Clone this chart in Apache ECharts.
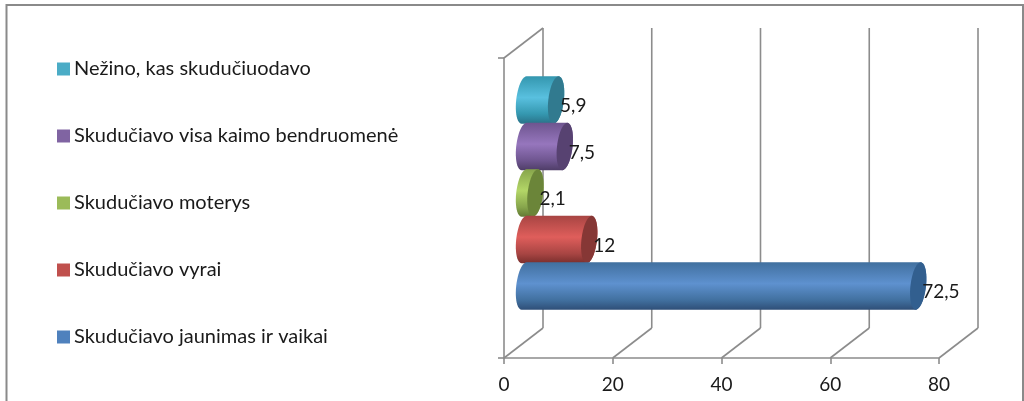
<!DOCTYPE html>
<html><head><meta charset="utf-8">
<style>html,body{margin:0;padding:0;background:#fff}#c{width:1024px;height:401px}</style>
<script src="https://cdn.jsdelivr.net/npm/echarts@6/dist/echarts.min.js"></script>
</head><body><div id="c"></div>
<script>
const seriesNames = ['Skudučiavo jaunimas ir vaikai','Skudučiavo vyrai','Skudučiavo moterys','Skudučiavo visa kaimo bendruomenė','Nežino, kas skudučiuodavo'];
const seriesValues = [72.5,12,2.1,7.5,5.9];
const legendOrder = ['Nežino, kas skudučiuodavo','Skudučiavo visa kaimo bendruomenė','Skudučiavo moterys','Skudučiavo vyrai','Skudučiavo jaunimas ir vaikai'];
const axisTicks = [0,20,40,60,80];
const baseColors = ['#4F81BD','#C0504D','#9BBB59','#8064A2','#4BACC6'];
const bodyEdge = ['#2F4F78','#7A2F2D','#627A34','#4F3D68','#2A7288'];
const bodyTop  = ['#41709F','#A84543','#87A54C','#6E558F','#3497AF'];
const bodyMid  = ['#5E91CF','#DF5E5B','#B3D667','#9676BD','#59C0DF'];
const capColor = ['#325F8F','#863735','#6B8539','#574271','#317A8F'];
const FONT = 'Lato';
const DEPTH_X = 39, DEPTH_Y = 30, AXIS = '#8C8C8C';

function ellipsePts(cx, cy, rx, ry, skew, from, to, n){
  const p = [];
  for(let i=0;i<=n;i++){
    const t = (from + (to-from)*i/n)*Math.PI/180;
    p.push([cx + rx*Math.cos(t) - skew*Math.sin(t), cy + ry*Math.sin(t)]);
  }
  return p;
}
function barItem(idx){
  return function(params, api){
    const v = api.value(0);
    const start = api.coord([0,0]), end = api.coord([v,0]);
    const band = api.size([0,1])[1];
    const step = band*0.155, ry = step/2+0.4, rx = 7.8, skew = 2.5;
    const cy = start[1] - DEPTH_Y/2 + (2-idx)*step;
    const x0 = start[0] + DEPTH_X/2 + 0.5, x1 = end[0] + DEPTH_X/2 + 0.5;
    const body = ellipsePts(x0,cy,rx,ry,skew,270,90,24).concat(ellipsePts(x1,cy,rx,ry,skew,90,-90,24));
    const label = String(v).replace('.',',');
    return {type:'group',children:[
      {type:'polygon',shape:{points:body},style:{fill:{type:'linear',x:0,y:0,x2:0,y2:1,colorStops:[
        {offset:0,color:bodyTop[idx]},{offset:0.45,color:bodyMid[idx]},{offset:0.8,color:bodyTop[idx]},{offset:1,color:bodyEdge[idx]}]}}},
      {type:'polygon',shape:{points:ellipsePts(x1,cy,rx,ry,skew,0,360,48)},style:{fill:capColor[idx]}},
      {type:'text',z2:50,style:{x:x1+4,y:cy+6,text:label,fill:'#1a1a1a',font:'19px '+FONT,textAlign:'left',textVerticalAlign:'middle'}}
    ]};
  };
}
function wallItem(params, api){
  const t = api.value(0);
  const p = api.coord([t,0]);
  const band = api.size([0,1])[1];
  const bottom = p[1]+band/2, top = p[1]-band/2;
  const st = {stroke:AXIS,lineWidth:1.6,fill:'none'};
  const ch = [
    {type:'line',shape:{x1:p[0],y1:bottom,x2:p[0]+DEPTH_X,y2:bottom-DEPTH_Y},style:st},
    {type:'line',shape:{x1:p[0]+DEPTH_X,y1:bottom-DEPTH_Y,x2:p[0]+DEPTH_X,y2:top-DEPTH_Y},style:st}
  ];
  if(t===axisTicks[0]) ch.push({type:'line',shape:{x1:p[0],y1:top,x2:p[0]+DEPTH_X,y2:top-DEPTH_Y},style:st});
  return {type:'group',children:ch};
}
const chart = echarts.init(document.getElementById('c'),null,{renderer:'canvas'});
chart.setOption({
  animation:false,
  backgroundColor:'#fff',
  graphic:[{type:'rect',z:100,shape:{x:6.5,y:5,width:1016.5,height:420},style:{fill:'none',stroke:'#8A8A8A',lineWidth:2}}],
  grid:{left:504,top:58,width:435,height:300,containLabel:false},
  xAxis:{type:'value',min:0,max:80,interval:20,splitLine:{show:false},
    axisLine:{show:true,lineStyle:{color:AXIS,width:1.6}},
    axisTick:{show:true,length:6,lineStyle:{color:AXIS,width:1.6}},
    axisLabel:{show:true,color:'#1a1a1a',fontFamily:FONT,fontSize:19,margin:17}},
  yAxis:{type:'category',data:[''],
    axisLine:{show:true,lineStyle:{color:AXIS,width:1.6}},
    axisTick:{show:true,length:6,lineStyle:{color:AXIS,width:1.6}},
    axisLabel:{show:false},splitLine:{show:false}},
  legend:{data:legendOrder,orient:'vertical',left:52,top:54,itemWidth:13,itemHeight:13,itemGap:47,
    icon:'rect',selectedMode:false,
    textStyle:{color:'#1a1a1a',fontFamily:FONT,fontSize:20,padding:[0,0,0,-1]}},
  series:[
    {type:'custom',name:'walls',z:1,silent:true,data:axisTicks.map(t=>[t,0]),encode:{x:0,y:1},renderItem:wallItem}
  ].concat(seriesNames.map((n,i)=>({
    type:'custom',name:n,z:10-i,clip:false,itemStyle:{color:baseColors[i]},
    data:[[seriesValues[i],0]],encode:{x:0,y:1},renderItem:barItem(i)
  })))
});
</script></body></html>
